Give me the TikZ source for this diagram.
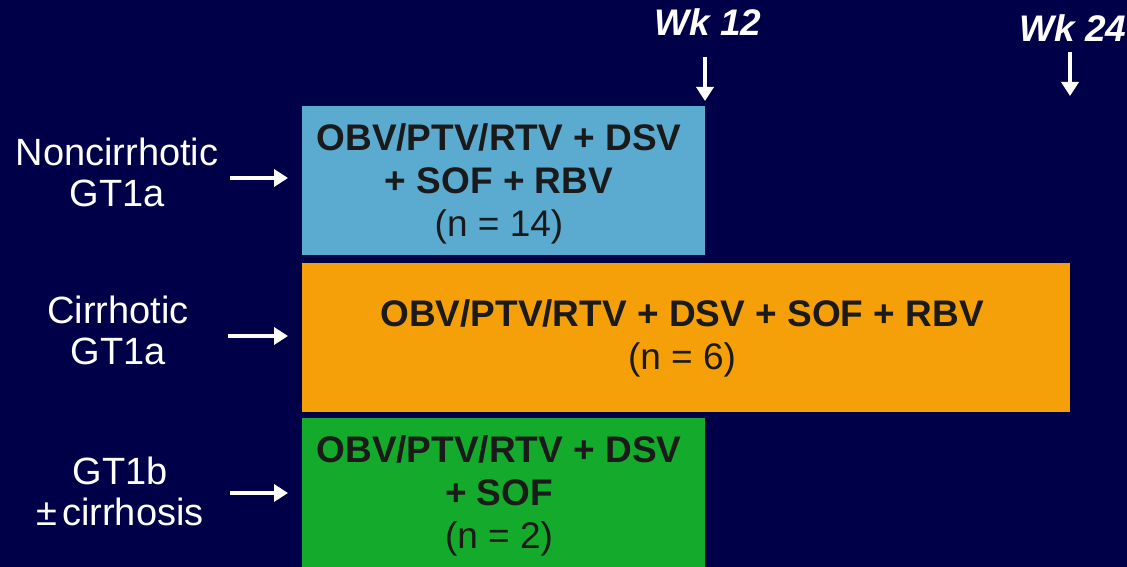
\documentclass[tikz,border=0pt]{standalone}
\usepackage{fontspec}
\setmainfont{Liberation Sans}
\usetikzlibrary{arrows.meta}
\definecolor{bg}{HTML}{000048}
\definecolor{bblue}{HTML}{5BAACF}
\definecolor{borange}{HTML}{F5A008}
\definecolor{bgreen}{HTML}{14AA2C}
\definecolor{txt}{HTML}{1A1A1A}
\tikzset{
  wk/.style={text=white, font=\fontsize{37}{40}\selectfont\bfseries\itshape, anchor=center, inner sep=0pt},
  lbl/.style={text=white, font=\fontsize{38}{41}\selectfont, align=center, anchor=center, inner sep=0pt},
  boxtxt/.style={text=txt, font=\fontsize{37}{43}\selectfont, align=center, anchor=center, inner sep=0pt},
  warr/.style={white, line width=4.5pt, -{Triangle[length=14pt,width=17pt]}},
}
\begin{document}
\begin{tikzpicture}[x=1pt,y=-1pt]
\fill[bg] (0,0) rectangle (1127,567);
\useasboundingbox (0,0) rectangle (1127,567);
% boxes
\fill[bblue] (302,106) rectangle (705,255);
\fill[borange] (302,263) rectangle (1070,412);
\fill[bgreen] (302,418) rectangle (705,567);
% box texts
\node[boxtxt] (t1) at (499,184) {\textbf{OBV/PTV/RTV + DSV}\\\textbf{+ SOF + RBV}\\(n = 14)};
\node[boxtxt] (t2) at (682,338) {\textbf{OBV/PTV/RTV + DSV + SOF + RBV}\\(n = 6)};
\node[boxtxt] (t3) at (499,496) {\textbf{OBV/PTV/RTV + DSV}\\\textbf{+ SOF}\\(n = 2)};
% week labels
\node[wk] (w12) at (708,22) {Wk 12};
\node[wk] (w24) at (1073,28) {Wk 24};
\coordinate (w12s) at (705,57);
\coordinate (w12e) at (705,101);
\coordinate (w24s) at (1070,52);
\coordinate (w24e) at (1070,96);
\draw[warr] (w12s) -- (w12e);
\draw[warr] (w24s) -- (w24e);
% left labels
\node[lbl] (l1) at (117,172) {Noncirrhotic\\GT1a};
\node[lbl] (l2) at (118,330) {Cirrhotic\\GT1a};
\node[lbl] (l3) at (120,491) {GT1b\\±\hspace{5pt}cirrhosis};
\coordinate (a1s) at (230,178);
\coordinate (a1e) at (288,178);
\coordinate (a2s) at (228,336);
\coordinate (a2e) at (288,336);
\coordinate (a3s) at (230,493);
\coordinate (a3e) at (288,493);
\draw[warr] (a1s) -- (a1e);
\draw[warr] (a2s) -- (a2e);
\draw[warr] (a3s) -- (a3e);
\end{tikzpicture}
\end{document}
